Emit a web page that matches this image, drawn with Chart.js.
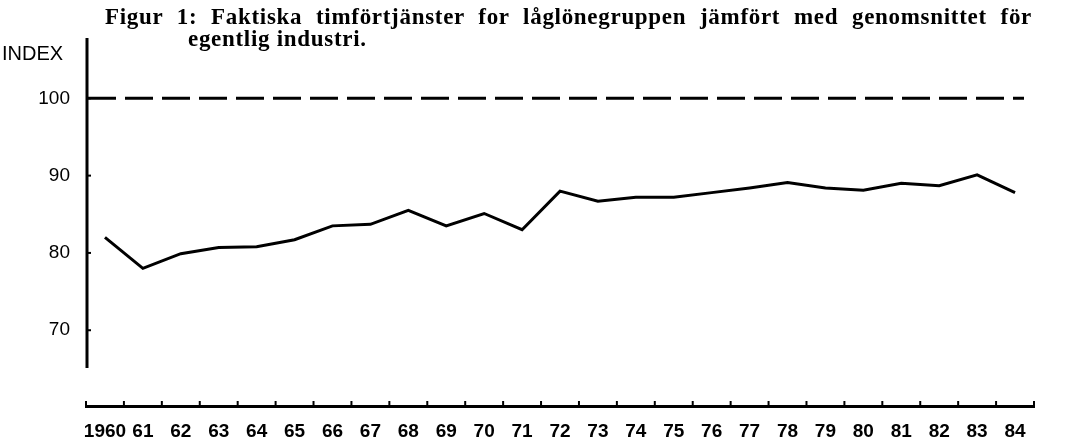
<!DOCTYPE html>
<html>
<head>
<meta charset="utf-8">
<script src="https://cdn.jsdelivr.net/npm/chart.js@4/dist/chart.umd.min.js"></script>
<style>
    body { margin: 0; background: #fff; }
    #wrap { position: relative; width: 1067px; height: 444px; }
    .title { position: absolute; font-family: "Liberation Serif", serif; font-weight: bold; font-size: 23px; line-height: 23px; letter-spacing: 0.7px; color: #000; white-space: nowrap; }
    #title1 { left: 105px; top: 5px; width: 927px; text-align: justify; text-align-last: justify; white-space: normal; }
    #title2 { left: 188px; top: 27px; }
    #yTitle { position: absolute; left: 2px; top: 43px; font-family: "Liberation Sans", sans-serif; font-size: 20px; line-height: 20px; color: #000; }
</style>
</head>
<body>
<div id="wrap">
    <canvas id="chart"></canvas>
    <div class="title" id="title1">Figur 1: Faktiska timförtjänster for låglönegruppen jämfört med genomsnittet för</div>
    <div class="title" id="title2">egentlig industri.</div>
    <div id="yTitle">INDEX</div>
</div>
<script>
// Data
const years = ['1960', '61', '62', '63', '64', '65', '66', '67', '68', '69', '70', '71', '72',
               '73', '74', '75', '76', '77', '78', '79', '80', '81', '82', '83', '84'];
const lowWageIndex = [82.0, 78.0, 79.9, 80.7, 80.8, 81.7, 83.5, 83.7, 85.5, 83.5, 85.1, 83.0, 88.0,
                      86.7, 87.2, 87.2, 87.8, 88.4, 89.1, 88.4, 88.1, 89.0, 88.7, 90.1, 87.8];
const yTicks = [70, 80, 90, 100];
const industryAverage = 100;   // dashed reference line
const yAxisBottom = 65.1;      // the y axis stops short of the x axis

// Draws the y spine, tick marks and the dashed 100 line
const axisDecor = {
    id: 'axisDecor',
    afterDatasetsDraw(chart) {
        const { ctx, chartArea, scales: { x, y } } = chart;
        ctx.save();
        ctx.strokeStyle = '#000';
        ctx.lineCap = 'butt';

        // y axis line
        ctx.lineWidth = 3;
        ctx.beginPath();
        ctx.moveTo(chartArea.left + 1, chartArea.top);
        ctx.lineTo(chartArea.left + 1, y.getPixelForValue(yAxisBottom));
        ctx.stroke();

        // y tick marks
        ctx.lineWidth = 2;
        yTicks.forEach(v => {
            const py = y.getPixelForValue(v);
            ctx.beginPath();
            ctx.moveTo(chartArea.left + 1, py);
            ctx.lineTo(chartArea.left + 5, py);
            ctx.stroke();
        });

        // x tick marks between the years, pointing up
        for (let i = 0; i <= years.length; i++) {
            const px = x.getPixelForValue(i - 0.5);
            ctx.beginPath();
            ctx.moveTo(px, chartArea.bottom);
            ctx.lineTo(px, chartArea.bottom - 5);
            ctx.stroke();
        }

        // dashed line at 100
        ctx.lineWidth = 3;
        ctx.setLineDash([28, 9]);
        const py = y.getPixelForValue(industryAverage);
        ctx.beginPath();
        ctx.moveTo(chartArea.left + 2, py);
        ctx.lineTo(chartArea.right - 10, py);
        ctx.stroke();
        ctx.restore();
    }
};

new Chart(document.getElementById('chart'), {
    type: 'line',
    data: {
        labels: years,
        datasets: [{
            label: 'Låglönegruppen',
            data: lowWageIndex,
            borderColor: '#000',
            borderWidth: 3,
            pointRadius: 0,
            tension: 0,
            fill: false
        }]
    },
    options: {
        responsive: true,
        maintainAspectRatio: false,
        animation: false,
        layout: {
            padding: { top: 38, right: 33, bottom: 0, left: 0 }
        },
        plugins: {
            legend: { display: false },
            tooltip: { enabled: false }
        },
        scales: {
            x: {
                type: 'category',
                offset: true,
                grid: { display: false, drawTicks: false },
                border: { display: true, color: '#000', width: 3 },
                ticks: {
                    color: '#000',
                    padding: 14,
                    maxRotation: 0,
                    autoSkip: false,
                    font: { family: 'Liberation Sans', size: 19, weight: 'bold' }
                },
                afterFit(scale) { scale.height = 38; }
            },
            y: {
                min: 60.2,
                max: 107.8,
                grid: { display: false, drawTicks: false },
                border: { display: false },
                ticks: {
                    color: '#000',
                    padding: 16,
                    font: { family: 'Liberation Sans', size: 19 }
                },
                afterBuildTicks(scale) {
                    scale.ticks = yTicks.map(v => ({ value: v }));
                },
                afterFit(scale) { scale.width = 86; }
            }
        }
    },
    plugins: [axisDecor]
});
</script>
</body>
</html>
